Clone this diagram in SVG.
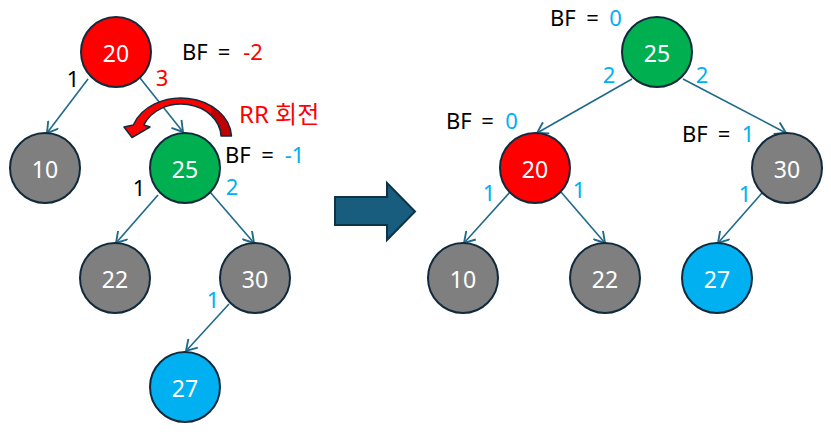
<svg xmlns="http://www.w3.org/2000/svg" width="831" height="436" viewBox="0 0 831 436">
<style>
.n{stroke:#102A3C;stroke-width:2}
.red{fill:#FF0000}.green{fill:#00B050}.gray{fill:#7F7F7F}.blue{fill:#00B0F0}
.nt{font-family:"Noto Sans","Noto Sans CJK KR",sans-serif;font-size:23px;fill:#FFFFFF;text-anchor:middle}
.t{font-family:"Noto Sans","Noto Sans CJK KR",sans-serif;font-size:22px;fill:#000000}
.m{text-anchor:middle}
.tr{fill:#FF0000}.tb{fill:#00B0F0}
.e{stroke:#1F6A8A;stroke-width:1.6;fill:none;marker-end:url(#ah)}
</style>
<defs>
<marker id="ah" markerUnits="userSpaceOnUse" markerWidth="14" markerHeight="14" refX="10" refY="6" orient="auto" viewBox="0 0 12 12">
<path d="M1,0.5 L10,6 L1,11.5" fill="none" stroke="#1F6A8A" stroke-width="1.6"/>
</marker>
<linearGradient id="rg" gradientUnits="userSpaceOnUse" x1="115" y1="0" x2="235" y2="0">
<stop offset="0" stop-color="#FF0000"/><stop offset="0.8" stop-color="#FF0000"/><stop offset="0.8" stop-color="#C00000"/><stop offset="1" stop-color="#C00000"/>
</linearGradient>
</defs>

<g id="connectors">
<line class="e" x1="88" y1="79" x2="47" y2="133"/>
<line class="e" x1="140" y1="78" x2="183" y2="132"/>
<line class="e" x1="158" y1="195" x2="116" y2="243"/>
<line class="e" x1="210" y1="192" x2="254" y2="243"/>
<line class="e" x1="229" y1="304" x2="186" y2="351"/>
<line class="e" x1="632" y1="79" x2="537" y2="133"/>
<line class="e" x1="683" y1="79" x2="786" y2="133"/>
<line class="e" x1="510" y1="192" x2="464" y2="243"/>
<line class="e" x1="561" y1="192" x2="605" y2="243"/>
<line class="e" x1="762" y1="193" x2="718" y2="243"/>
</g>

<g id="rotate-arrow">
<path d="M231.5,136 A50.5,40 0 0 0 133.3,125 L124,127 L132,137.5 L150,127 L143.8,125 A40,33 0 0 1 221,136 Z" fill="url(#rg)" stroke="#102A3C" stroke-width="1.5" stroke-linejoin="round"/>
</g>

<g id="n20a"><circle class="n red" cx="116" cy="52" r="35"/><text class="nt" x="116" y="62">20</text></g>
<g id="n10a"><circle class="n gray" cx="45" cy="168" r="35"/><text class="nt" x="45" y="178">10</text></g>
<g id="n25a"><circle class="n green" cx="185" cy="168" r="35"/><text class="nt" x="185" y="178">25</text></g>
<g id="n22a"><circle class="n gray" cx="115" cy="278" r="35"/><text class="nt" x="115" y="288">22</text></g>
<g id="n30a"><circle class="n gray" cx="255" cy="278" r="35"/><text class="nt" x="255" y="288">30</text></g>
<g id="n27a"><circle class="n blue" cx="185" cy="387" r="35"/><text class="nt" x="185" y="397">27</text></g>

<g id="n25b"><circle class="n green" cx="657" cy="52" r="35"/><text class="nt" x="657" y="62">25</text></g>
<g id="n20b"><circle class="n red" cx="535" cy="168" r="35"/><text class="nt" x="535" y="178">20</text></g>
<g id="n30b"><circle class="n gray" cx="787" cy="168" r="35"/><text class="nt" x="787" y="178">30</text></g>
<g id="n10b"><circle class="n gray" cx="463" cy="278" r="35"/><text class="nt" x="463" y="288">10</text></g>
<g id="n22b"><circle class="n gray" cx="605" cy="278" r="35"/><text class="nt" x="605" y="288">22</text></g>
<g id="n27b"><circle class="n blue" cx="717" cy="278" r="35"/><text class="nt" x="717" y="288">27</text></g>

<g id="big-arrow">
<polygon points="335,197 387,197 387,183 415,211.5 387,240 387,225 335,225" fill="#185D7E" stroke="#0D3348" stroke-width="2" stroke-linejoin="miter"/>
</g>

<g id="labels">
<text class="t" x="182" y="60">BF</text><text class="t m" x="224" y="60">=</text><text class="t m tr" x="253" y="60">-2</text>
<text class="t m tr" x="162" y="86">3</text>
<text class="t m" x="73" y="87">1</text>
<text class="t tr" x="239" y="123" style="font-size:24px">RR 회전</text>
<text class="t" x="225" y="163">BF</text><text class="t m" x="267.5" y="163">=</text><text class="t m tb" x="294.5" y="163">-1</text>
<text class="t m" x="139" y="196">1</text>
<text class="t m tb" x="232" y="195">2</text>
<text class="t m tb" x="213" y="308">1</text>

<text class="t" x="550" y="26">BF</text><text class="t m" x="592.5" y="26">=</text><text class="t m tb" x="615.5" y="26">0</text>
<text class="t m tb" x="609" y="83">2</text>
<text class="t m tb" x="702" y="83">2</text>
<text class="t" x="446" y="129">BF</text><text class="t m" x="487.5" y="129">=</text><text class="t m tb" x="511.5" y="129">0</text>
<text class="t" x="682" y="142">BF</text><text class="t m" x="724" y="142">=</text><text class="t m tb" x="748" y="142">1</text>
<text class="t m tb" x="489" y="201">1</text>
<text class="t m tb" x="579" y="198">1</text>
<text class="t m tb" x="745" y="202">1</text>
</g>
</svg>
